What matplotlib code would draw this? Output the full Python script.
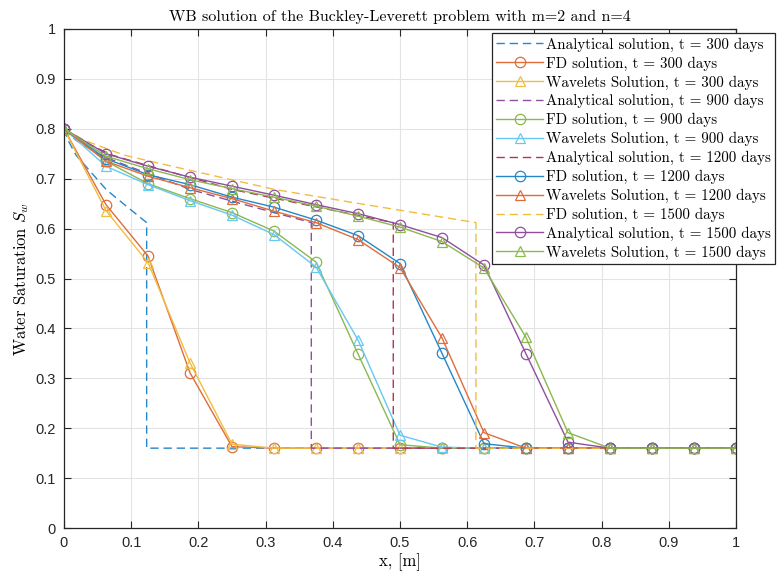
import numpy as np
import matplotlib
matplotlib.use("Agg")
import matplotlib.pyplot as plt
from matplotlib.colors import to_rgb

# grid used by the FD and wavelet solvers
x_grid = [0, 0.0625, 0.125, 0.1875, 0.25, 0.3125, 0.375, 0.4375, 0.5,
          0.5625, 0.625, 0.6875, 0.75, 0.8125, 0.875, 0.9375, 1]

# analytical solutions (rarefaction + shock)
xa_300 = [0, 0.006, 0.018, 0.031, 0.063, 0.090, 0.123, 0.123, 1]
xa_900 = [0, 0.018, 0.054, 0.092, 0.189, 0.269, 0.368, 0.368, 1]
xa_1200 = [0, 0.024, 0.072, 0.123, 0.252, 0.359, 0.490, 0.490, 1]
xa_1500 = [0, 0.030, 0.090, 0.154, 0.315, 0.449, 0.613, 0.613, 1]
sa = [0.8, 0.777, 0.747, 0.727, 0.678, 0.648, 0.612, 0.16, 0.16]

fd_300 = [0.8, 0.648, 0.545, 0.311, 0.163, 0.16, 0.16, 0.16, 0.16,
          0.16, 0.16, 0.16, 0.16, 0.16, 0.16, 0.16, 0.16]
wav_300 = [0.8, 0.636, 0.532, 0.331, 0.168, 0.16, 0.16, 0.16, 0.16,
           0.16, 0.16, 0.16, 0.16, 0.16, 0.16, 0.16, 0.16]
fd_900 = [0.8, 0.735, 0.690, 0.660, 0.632, 0.595, 0.533, 0.349, 0.167,
          0.16, 0.16, 0.16, 0.16, 0.16, 0.16, 0.16, 0.16]
wav_900 = [0.8, 0.725, 0.688, 0.656, 0.627, 0.588, 0.523, 0.377, 0.186,
           0.162, 0.16, 0.16, 0.16, 0.16, 0.16, 0.16, 0.16]
fd_1200 = [0.8, 0.740, 0.708, 0.688, 0.663, 0.643, 0.617, 0.586, 0.530,
           0.350, 0.169, 0.16, 0.16, 0.16, 0.16, 0.16, 0.16]
wav_1200 = [0.8, 0.735, 0.705, 0.682, 0.660, 0.635, 0.612, 0.578, 0.522,
            0.381, 0.191, 0.16, 0.16, 0.16, 0.16, 0.16, 0.16]
fd_1500 = [0.8, 0.750, 0.725, 0.703, 0.685, 0.667, 0.648, 0.630, 0.608,
           0.582, 0.527, 0.349, 0.172, 0.16, 0.16, 0.16, 0.16]
wav_1500 = [0.8, 0.745, 0.720, 0.698, 0.680, 0.663, 0.645, 0.625, 0.603,
            0.574, 0.521, 0.382, 0.191, 0.16, 0.16, 0.16, 0.16]

labels = ["Analytical solution, t = 300 days",
          "FD solution, t = 300 days",
          "Wavelets Solution, t = 300 days",
          "Analytical solution, t = 900 days",
          "FD solution, t = 900 days",
          "Wavelets Solution, t = 900 days",
          "Analytical solution, t = 1200 days",
          "FD solution, t = 1200 days",
          "Wavelets Solution, t = 1200 days",
          "FD solution, t = 1500 days",
          "Analytical solution, t = 1500 days",
          "Wavelets Solution, t = 1500 days"]

# MATLAB default colour order, slightly washed out like the reference
matlab = ["#0072BD", "#D95319", "#EDB120", "#7E2F8E", "#77AC30", "#4DBEEE", "#A2142F"]
colors = [tuple(0.85 * np.array(to_rgb(c)) + 0.15) for c in matlab]

plt.rcParams["mathtext.fontset"] = "cm"
serif = "cmr10"

fig = plt.figure(figsize=(7.81, 5.79), dpi=100)
ax = fig.add_axes([64 / 781, 51 / 579, 672 / 781, 499 / 579])

series = [
    (xa_300, sa, "--", None),
    (x_grid, fd_300, "-", "o"),
    (x_grid, wav_300, "-", "^"),
    (xa_900, sa, "--", None),
    (x_grid, fd_900, "-", "o"),
    (x_grid, wav_900, "-", "^"),
    (xa_1200, sa, "--", None),
    (x_grid, fd_1200, "-", "o"),
    (x_grid, wav_1200, "-", "^"),
    (xa_1500, sa, "--", None),
    (x_grid, fd_1500, "-", "o"),
    (x_grid, wav_1500, "-", "^"),
]

for i, (xs, ys, ls, mk) in enumerate(series):
    c = colors[i % 7]
    ax.plot(xs, ys, linestyle=ls, color=c, lw=1.0, marker=mk, markersize=7.5,
            markerfacecolor="none", markeredgewidth=0.9, label=labels[i],
            dashes=(6, 3.5) if ls == "--" else (None, None))

ax.set_xlim(0, 1)
ax.set_ylim(0, 1)
ax.set_xticks(np.arange(0, 1.01, 0.1))
ax.set_yticks(np.arange(0, 1.01, 0.1))
ax.set_xticklabels(["0", "0.1", "0.2", "0.3", "0.4", "0.5", "0.6", "0.7", "0.8", "0.9", "1"])
ax.set_yticklabels(["0", "0.1", "0.2", "0.3", "0.4", "0.5", "0.6", "0.7", "0.8", "0.9", "1"])
ax.grid(True, color="#e3e3e3", lw=0.8)
ax.set_axisbelow(True)
ax.tick_params(direction="in", top=True, right=True, length=5, width=0.8,
               colors="#262626", labelsize=10.5, pad=6)
for lab in ax.get_xticklabels() + ax.get_yticklabels():
    lab.set_family("Liberation Sans")
for sp in ax.spines.values():
    sp.set_color("#262626")
    sp.set_linewidth(0.9)

ax.set_title("WB solution of the Buckley-Leverett problem with m=2 and n=4",
             family=serif, fontsize=11.5, pad=6)
ax.set_xlabel("x, [m]", family=serif, fontsize=12, labelpad=2)
ax.set_ylabel("Water Saturation $S_w$", family=serif, fontsize=12, labelpad=3)

leg = ax.legend(loc="upper left", bbox_to_anchor=(492 / 781, 1 - 33 / 579),
                bbox_transform=fig.transFigure, prop={"family": serif, "size": 10.8},
                frameon=True, fancybox=False, framealpha=1, edgecolor="#262626",
                handlelength=3.1, handletextpad=0.2, labelspacing=0.31,
                borderpad=0.3, borderaxespad=0)
leg.get_frame().set_linewidth(0.9)

fig.savefig("out.png", dpi=100)
